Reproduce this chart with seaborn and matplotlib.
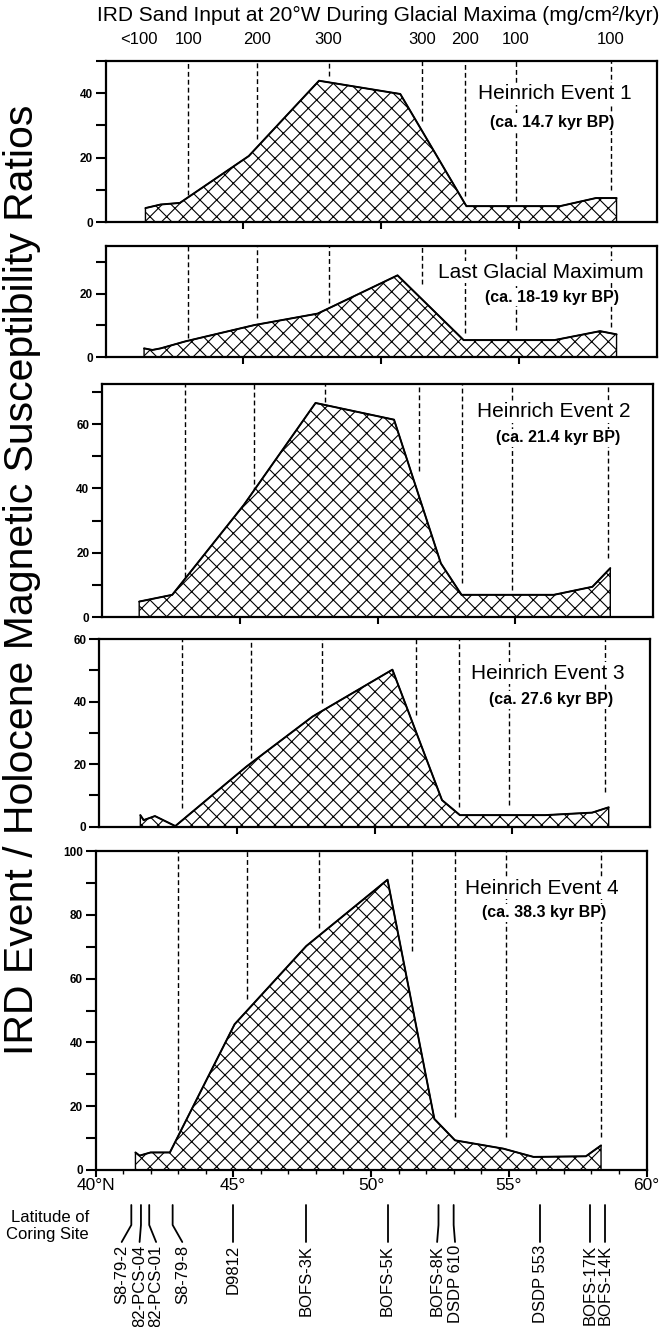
import numpy as np
import matplotlib
matplotlib.use("Agg")
import matplotlib.pyplot as plt
import matplotlib.transforms as mtransforms
import seaborn as sns

sns.set_style("ticks")
plt.rcParams['font.family'] = ['Liberation Sans', 'DejaVu Sans']
plt.rcParams['hatch.linewidth'] = 0.8
for k in ['text.color', 'axes.labelcolor', 'xtick.color', 'ytick.color', 'axes.edgecolor']:
    plt.rcParams[k] = 'black'

# IRD sand input contours (mg/cm2/kyr) labelled along the top
sand_labels = ["<100", "100", "200", "300", "300", "200", "100", "100"]
sand_lats = [41.2, 43.0, 45.5, 48.1, 51.5, 53.05, 54.9, 58.35]

# panels, top to bottom
titles = ["Heinrich Event 1", "Last Glacial Maximum", "Heinrich Event 2",
          "Heinrich Event 3", "Heinrich Event 4"]
ages = ["(ca. 14.7 kyr BP)", "(ca. 18-19 kyr BP)", "(ca. 21.4 kyr BP)",
        "(ca. 27.6 kyr BP)", "(ca. 38.3 kyr BP)"]

h1_lat = [41.45, 42.0, 42.7, 45.2, 47.75, 50.7, 53.1, 56.5, 57.8, 58.55]
h1_val = [4.4, 5.5, 6.0, 20.5, 43.8, 39.7, 5.0, 5.0, 7.5, 7.5]

lgm_lat = [41.4, 41.7, 42.0, 42.9, 45.4, 47.7, 50.6, 53.0, 56.3, 57.95, 58.55]
lgm_val = [2.8, 2.3, 2.8, 5.0, 10.1, 13.7, 25.7, 5.4, 5.4, 8.2, 7.2]

h2_lat = [41.35, 42.55, 45.15, 47.75, 50.6, 52.3, 53.05, 56.4, 57.8, 58.45]
h2_val = [4.8, 6.9, 34.9, 66.6, 61.4, 16.7, 6.9, 6.9, 9.4, 15.2]

h3_lat = [41.5, 41.62, 42.03, 42.77, 45.35, 47.75, 50.65, 52.45, 53.1, 56.2, 57.9, 58.5]
h3_val = [3.7, 2.1, 3.4, 0.2, 19.2, 35.2, 50.2, 8.5, 3.7, 3.7, 4.5, 6.2]

h4_lat = [41.45, 41.6, 42.0, 42.7, 45.05, 47.65, 50.6, 52.3, 53.05, 54.8, 55.9, 57.8, 58.35]
h4_val = [5.5, 4.5, 5.5, 5.5, 45.7, 70.2, 91.0, 16.0, 9.3, 6.7, 4.1, 4.3, 7.7]

series = [(h1_lat, h1_val), (lgm_lat, lgm_val), (h2_lat, h2_val),
          (h3_lat, h3_val), (h4_lat, h4_val)]
ymax = [50, 35, 72.5, 60, 100]

# where each dashed contour line stops, per panel
dash_ends = [[8.6, 25.7, 45.4, 31.4, 8.0, 6.5, 10.0],
             [5.9, 12.2, 16.9, 23.0, 7.5, 8.5, 9.6],
             [12.6, 39.0, 67.0, 45.3, 10.5, 8.4, 18.3],
             [5.9, 21.9, 39.5, 35.8, 6.4, 6.9, 11.2],
             [12.4, 53.5, 76.0, 68.6, 16.6, 10.3, 10.3]]

# label positions (lat, value) for title and age
title_pos = [(56.3, 39.7), (55.8, 26.7), (56.4, 63.8), (56.3, 49.1), (56.2, 88.4)]
age_pos = [(56.2, 30.9), (56.2, 18.9), (56.55, 55.7), (56.4, 40.6), (56.3, 80.6)]

# coring sites
site_names = ["S8-79-2", "82-PCS-04", "82-PCS-01", "S8-79-8", "D9812", "BOFS-3K",
              "BOFS-5K", "BOFS-8K", "DSDP 610", "DSDP 553", "BOFS-17K", "BOFS-14K"]
site_lats = [41.3, 41.65, 41.95, 42.8, 45.0, 47.65, 50.6, 52.45, 53.0, 56.15, 57.95, 58.5]
site_label_lats = [40.95, 41.6, 42.2, 43.15, 45.0, 47.65, 50.6, 52.4, 53.05, 56.15, 57.95, 58.5]

W, H = 664, 1327
fig = plt.figure(figsize=(W / 100, H / 100), dpi=100)

# (left, top, bottom) of each panel in pixels
boxes = [(105.5, 60.7, 222.3), (105.5, 245.7, 357.3), (102, 384, 617),
         (99, 639, 826.7), (95.5, 851, 1170)]
width = 551

axes = []
for i, (left, top, bot) in enumerate(boxes):
    ax = fig.add_axes([left / W, 1 - bot / H, width / W, (bot - top) / H])
    lat, val = series[i]
    ax.vlines(sand_lats[1:], dash_ends[i], ymax[i], colors='black',
              linestyles=(0, (3.5, 2.2)), linewidth=1.0, zorder=1)
    ax.fill_between(lat, 0, val, facecolor='white', edgecolor='black',
                    hatch='xx', linewidth=1.0, zorder=2)
    sns.lineplot(x=lat, y=val, ax=ax, color='black', linewidth=1.4,
                 estimator=None, zorder=3)
    ax.text(*title_pos[i], titles[i], ha='center', va='center', fontsize=15,
            bbox=dict(facecolor='white', edgecolor='none', pad=1), zorder=5)
    ax.text(*age_pos[i], ages[i], ha='center', va='center', fontsize=11.5,
            fontweight='bold',
            bbox=dict(facecolor='white', edgecolor='none', pad=1), zorder=5)

    ax.set_xlim(40, 60)
    ax.set_ylim(0, ymax[i])
    yt = np.arange(0, ymax[i] + 0.1, 10)
    ax.set_yticks(yt)
    ax.set_yticklabels([str(int(t)) if t % 20 == 0 else '' for t in yt],
                       fontsize=8.5, fontweight='bold')
    ax.tick_params(axis='y', direction='out', length=7, width=1.5, pad=2)
    for s in ax.spines.values():
        s.set_linewidth(1.6)
        s.set_visible(True)
    axes.append(ax)

for ax in axes[:-1]:
    ax.set_xticks([45, 50, 55])
    ax.set_xticklabels([])
    ax.tick_params(axis='x', direction='out', length=5, width=1.5)

ax5 = axes[-1]
ax5.set_xticks([40, 45, 50, 55, 60])
ax5.set_xticklabels(["40°N", "45°", "50°", "55°", "60°"], fontsize=12.5)
ax5.set_xticks(np.arange(40, 61, 1), minor=True)
ax5.tick_params(axis='x', which='major', direction='out', length=5, width=1.5, pad=1)
ax5.tick_params(axis='x', which='minor', direction='out', length=3, width=1.0)

# header and contour values
fig.text(378 / W, 1 - 15 / H,
         "IRD Sand Input at 20°W During Glacial Maxima (mg/cm²/kyr)",
         ha='center', va='center', fontsize=15)
tr1 = mtransforms.blended_transform_factory(axes[0].transData, fig.transFigure)
for lat, lab in zip(sand_lats, sand_labels):
    axes[0].text(lat, 1 - 40 / H, lab, transform=tr1, ha='center', va='center',
                 fontsize=12, clip_on=False)

# big y label
fig.text(22 / W, 1 - 580 / H, "IRD Event / Holocene Magnetic Susceptibility Ratios",
         rotation=90, ha='center', va='center', fontsize=29.5)

# coring sites below the bottom axis
fig.text(89 / W, 1 - 1226 / H, "Latitude of\nCoring Site", ha='right', va='center',
         fontsize=12, linespacing=1.1)
tr5 = mtransforms.blended_transform_factory(ax5.transData, fig.transFigure)
for name, lat, llat in zip(site_names, site_lats, site_label_lats):
    ax5.plot([lat, lat, llat], [1 - 1205 / H, 1 - 1225 / H, 1 - 1242 / H],
             transform=tr5, color='black', linewidth=1.3, clip_on=False)
    ax5.text(llat, 1 - 1245 / H, name, transform=tr5, rotation=90,
             ha='center', va='top', fontsize=12, clip_on=False)

fig.savefig("out.png", dpi=100)
